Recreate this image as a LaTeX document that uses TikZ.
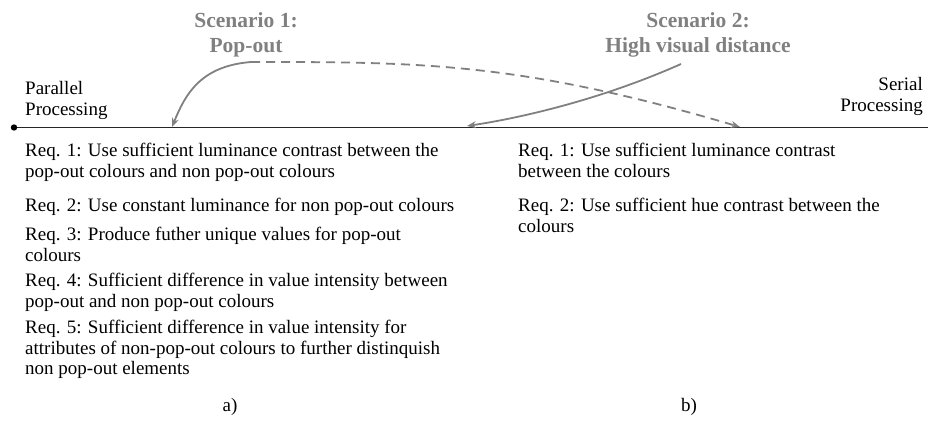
\documentclass[tikz,border=0pt]{standalone}
\usepackage{fontspec}
\setmainfont{Liberation Serif}
\usetikzlibrary{arrows.meta}
\definecolor{scgray}{HTML}{808080}
\tikzset{
  req/.style={anchor=base west, inner sep=0pt, align=left, font=\fontsize{19}{20.7}\selectfont},
  endlabel/.style={inner sep=0pt, font=\fontsize{19}{21.5}\selectfont},
  scen/.style={inner sep=0pt, align=center, text=scgray, font=\fontsize{21.5}{25}\selectfont\bfseries},
  scarrow/.style={draw=scgray, line width=1.8pt, -{Stealth[length=9pt,width=7pt]}},
  scdash/.style={scarrow, dash pattern=on 9pt off 6pt},
  sublabel/.style={anchor=base, inner sep=0pt, font=\fontsize{19}{21}\selectfont}
}
\begin{document}
\begin{tikzpicture}[x=1pt,y=-1pt]
\useasboundingbox (0,0) rectangle (928,421);
% axis
\coordinate (axL) at (14,127.5);
\coordinate (axR) at (928,127.5);
\draw[line width=1.2pt, black!85] (axL) -- (axR);
\fill (axL) circle (3.2pt);
% end labels
\node[endlabel, anchor=base west] (par1) at (25,94) {Parallel};
\node[endlabel, anchor=base west] (par2) at (25,115.5) {Processing};
\node[endlabel, anchor=base east] (ser1) at (923,90) {Serial};
\node[endlabel, anchor=base east] (ser2) at (923,111) {Processing};
% scenarios
\node[scen, anchor=base] (s1a) at (246,27) {Scenario 1:};
\node[scen, anchor=base] (s1b) at (246,52) {Pop-out};
\node[scen, anchor=base] (s2a) at (698,27) {Scenario 2:};
\node[scen, anchor=base] (s2b) at (698,52) {High visual distance};
% arrow anchors
\coordinate (s1o) at (251,62);
\coordinate (s2o) at (681,64);
\coordinate (t1) at (172,127);
\coordinate (t1d) at (740,127);
\coordinate (t2) at (467,126);
\draw[scarrow] (s1o) .. controls (200,66) and (185,95) .. (t1);
\draw[scdash] (s1o) .. controls (420,62) and (520,62) .. (t1d);
\draw[scarrow] (s2o) .. controls (600,100) and (520,118) .. (t2);
% left requirements (anchor = baseline of last line)
\node[req] (l1) at (25,177.2) {Req. 1: Use sufficient luminance contrast between the\\pop-out colours and non pop-out colours};
\node[req] (l2) at (25,211.5) {Req. 2: Use constant luminance for non pop-out colours};
\node[req] (l3) at (25,261.2) {Req. 3: Produce futher unique values for pop-out\\colours};
\node[req] (l4) at (25,307.2) {Req. 4: Sufficient difference in value intensity between\\pop-out and non pop-out colours};
\node[req] (l5) at (25,374.9) {Req. 5: Sufficient difference in value intensity for\\attributes of non-pop-out colours to further distinquish\\non pop-out elements};
% right requirements
\node[req] (r1) at (518,177.2) {Req. 1: Use sufficient luminance contrast\\between the colours};
\node[req] (r2) at (518,232.2) {Req. 2: Use sufficient hue contrast between the\\colours};
% sub labels
\node[sublabel] (la) at (230,411) {a)};
\node[sublabel] (lb) at (689,411) {b)};
\end{tikzpicture}
\end{document}
